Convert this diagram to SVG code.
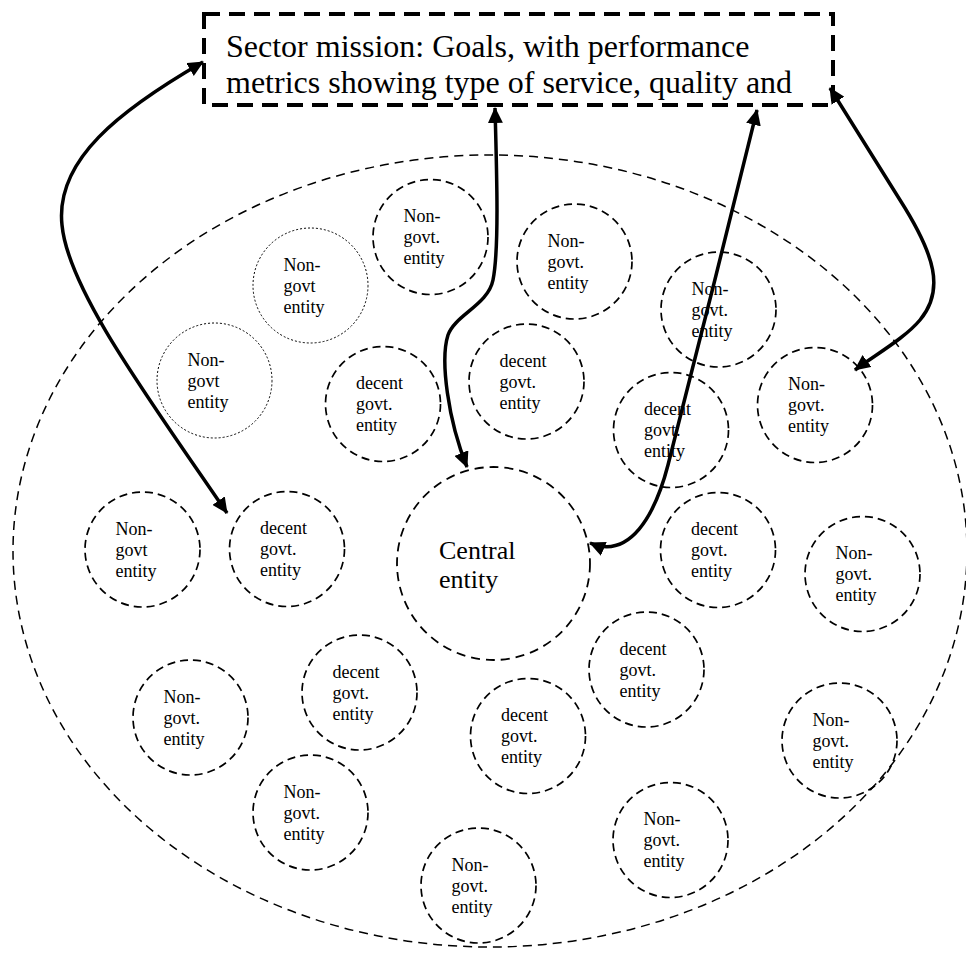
<svg xmlns="http://www.w3.org/2000/svg" width="966" height="953" viewBox="0 0 966 953">
<style>
.bg{fill:#fff}
.outer{fill:none;stroke:#000;stroke-width:1.5;stroke-dasharray:9 6}
.c{fill:none;stroke:#000;stroke-width:1.7;stroke-dasharray:8 5}
.cd{fill:none;stroke:#000;stroke-width:1;stroke-dasharray:2 2}
.cc{fill:none;stroke:#000;stroke-width:1.8;stroke-dasharray:9 6}
.box{fill:none;stroke:#000;stroke-width:4;stroke-dasharray:16 9}
.t{font-family:"Liberation Serif","Times New Roman",serif;font-size:18px;fill:#000}
.tc{font-family:"Liberation Serif","Times New Roman",serif;font-size:26px;fill:#000}
.tb{font-family:"Liberation Serif","Times New Roman",serif;font-size:32px;fill:#000}
.a{fill:none;stroke:#000;stroke-width:3.5;marker-start:url(#ah);marker-end:url(#ah)}
</style>
<defs>
<marker id="ah" viewBox="0 0 16 15" markerWidth="16" markerHeight="15" refX="15" refY="7.5" orient="auto-start-reverse" markerUnits="userSpaceOnUse">
<path d="M0,0 L16,7.5 L0,15 Z" fill="#000"/>
</marker>
</defs>
<rect class="bg" x="0" y="0" width="966" height="953"/>

<g id="sector">
<ellipse class="outer" cx="490" cy="551" rx="477" ry="396"/>
</g>

<g id="mission">
<rect class="box" x="204" y="14" width="629" height="91"/>
<text class="tb"><tspan x="226" y="57">Sector mission: Goals, with performance</tspan><tspan x="226" y="93">metrics showing type of service, quality and</tspan></text>
</g>

<g id="nA"><circle class="c" cx="430.5" cy="237" r="57.5"/><text class="t"><tspan x="403.5" y="222">Non-</tspan><tspan x="403.5" y="243">govt.</tspan><tspan x="403.5" y="264">entity</tspan></text></g>
<g id="nB"><circle class="c" cx="574.5" cy="261.5" r="57.5"/><text class="t"><tspan x="547.5" y="246.5">Non-</tspan><tspan x="547.5" y="267.5">govt.</tspan><tspan x="547.5" y="288.5">entity</tspan></text></g>
<g id="nC"><circle class="c" cx="718.5" cy="309.5" r="57.5"/><text class="t"><tspan x="691.5" y="294.5">Non-</tspan><tspan x="691.5" y="315.5">govt.</tspan><tspan x="691.5" y="336.5">entity</tspan></text></g>
<g id="nD"><circle class="cd" cx="310.5" cy="285.5" r="57.5"/><text class="t"><tspan x="283.5" y="270.5">Non-</tspan><tspan x="283.5" y="291.5">govt</tspan><tspan x="283.5" y="312.5">entity</tspan></text></g>
<g id="nE"><circle class="cd" cx="214.5" cy="380.5" r="57.5"/><text class="t"><tspan x="187.5" y="365.5">Non-</tspan><tspan x="187.5" y="386.5">govt</tspan><tspan x="187.5" y="407.5">entity</tspan></text></g>
<g id="nF"><circle class="c" cx="383" cy="404" r="57.5"/><text class="t"><tspan x="356" y="389">decent</tspan><tspan x="356" y="410">govt.</tspan><tspan x="356" y="431">entity</tspan></text></g>
<g id="nG"><circle class="c" cx="526.5" cy="381.5" r="57.5"/><text class="t"><tspan x="499.5" y="366.5">decent</tspan><tspan x="499.5" y="387.5">govt.</tspan><tspan x="499.5" y="408.5">entity</tspan></text></g>
<g id="nH"><circle class="c" cx="671" cy="430" r="57.5"/><text class="t"><tspan x="644" y="415">decent</tspan><tspan x="644" y="436">govt.</tspan><tspan x="644" y="457">entity</tspan></text></g>
<g id="nI"><circle class="c" cx="815" cy="405" r="57.5"/><text class="t"><tspan x="788" y="390">Non-</tspan><tspan x="788" y="411">govt.</tspan><tspan x="788" y="432">entity</tspan></text></g>
<g id="nJ"><circle class="c" cx="287" cy="549" r="57.5"/><text class="t"><tspan x="260" y="534">decent</tspan><tspan x="260" y="555">govt.</tspan><tspan x="260" y="576">entity</tspan></text></g>
<g id="nK"><circle class="c" cx="142.5" cy="549.5" r="57.5"/><text class="t"><tspan x="115.5" y="534.5">Non-</tspan><tspan x="115.5" y="555.5">govt</tspan><tspan x="115.5" y="576.5">entity</tspan></text></g>
<g id="central"><circle class="cc" cx="493.5" cy="563.5" r="96.5"/><text class="tc"><tspan x="439" y="559">Central</tspan><tspan x="439" y="588">entity</tspan></text></g>
<g id="nL"><circle class="c" cx="718" cy="550" r="57.5"/><text class="t"><tspan x="691" y="535">decent</tspan><tspan x="691" y="556">govt.</tspan><tspan x="691" y="577">entity</tspan></text></g>
<g id="nP"><circle class="c" cx="862.5" cy="574" r="57.5"/><text class="t"><tspan x="835.5" y="559">Non-</tspan><tspan x="835.5" y="580">govt.</tspan><tspan x="835.5" y="601">entity</tspan></text></g>
<g id="nN"><circle class="c" cx="359.5" cy="692.5" r="57.5"/><text class="t"><tspan x="332.5" y="677.5">decent</tspan><tspan x="332.5" y="698.5">govt.</tspan><tspan x="332.5" y="719.5">entity</tspan></text></g>
<g id="nO"><circle class="c" cx="646.5" cy="669.5" r="57.5"/><text class="t"><tspan x="619.5" y="654.5">decent</tspan><tspan x="619.5" y="675.5">govt.</tspan><tspan x="619.5" y="696.5">entity</tspan></text></g>
<g id="nV"><circle class="c" cx="190.5" cy="717.5" r="57.5"/><text class="t"><tspan x="163.5" y="702.5">Non-</tspan><tspan x="163.5" y="723.5">govt.</tspan><tspan x="163.5" y="744.5">entity</tspan></text></g>
<g id="nS"><circle class="c" cx="528" cy="736" r="57.5"/><text class="t"><tspan x="501" y="721">decent</tspan><tspan x="501" y="742">govt.</tspan><tspan x="501" y="763">entity</tspan></text></g>
<g id="nQ"><circle class="c" cx="839.5" cy="740.5" r="57.5"/><text class="t"><tspan x="812.5" y="725.5">Non-</tspan><tspan x="812.5" y="746.5">govt.</tspan><tspan x="812.5" y="767.5">entity</tspan></text></g>
<g id="nU"><circle class="c" cx="310.5" cy="812.5" r="57.5"/><text class="t"><tspan x="283.5" y="797.5">Non-</tspan><tspan x="283.5" y="818.5">govt.</tspan><tspan x="283.5" y="839.5">entity</tspan></text></g>
<g id="nR"><circle class="c" cx="670.5" cy="840" r="57.5"/><text class="t"><tspan x="643.5" y="825">Non-</tspan><tspan x="643.5" y="846">govt.</tspan><tspan x="643.5" y="867">entity</tspan></text></g>
<g id="nT"><circle class="c" cx="478.5" cy="885.5" r="57.5"/><text class="t"><tspan x="451.5" y="870.5">Non-</tspan><tspan x="451.5" y="891.5">govt.</tspan><tspan x="451.5" y="912.5">entity</tspan></text></g>

<g id="connectors">
<path class="a" d="M203,62 C120,110 55,160 62,225 C68,290 150,400 227,513"/>
<path class="a" d="M495,108 C497,180 499,250 493,280 C488,305 455,315 448,335 C440,360 448,420 467,467"/>
<path class="a" d="M757,110 C735,200 690,380 668,465 C655,515 630,560 590,543"/>
<path class="a" d="M830,88 L900,200 C935,255 945,290 920,320 C905,338 875,355 855,370"/>
</g>
</svg>
